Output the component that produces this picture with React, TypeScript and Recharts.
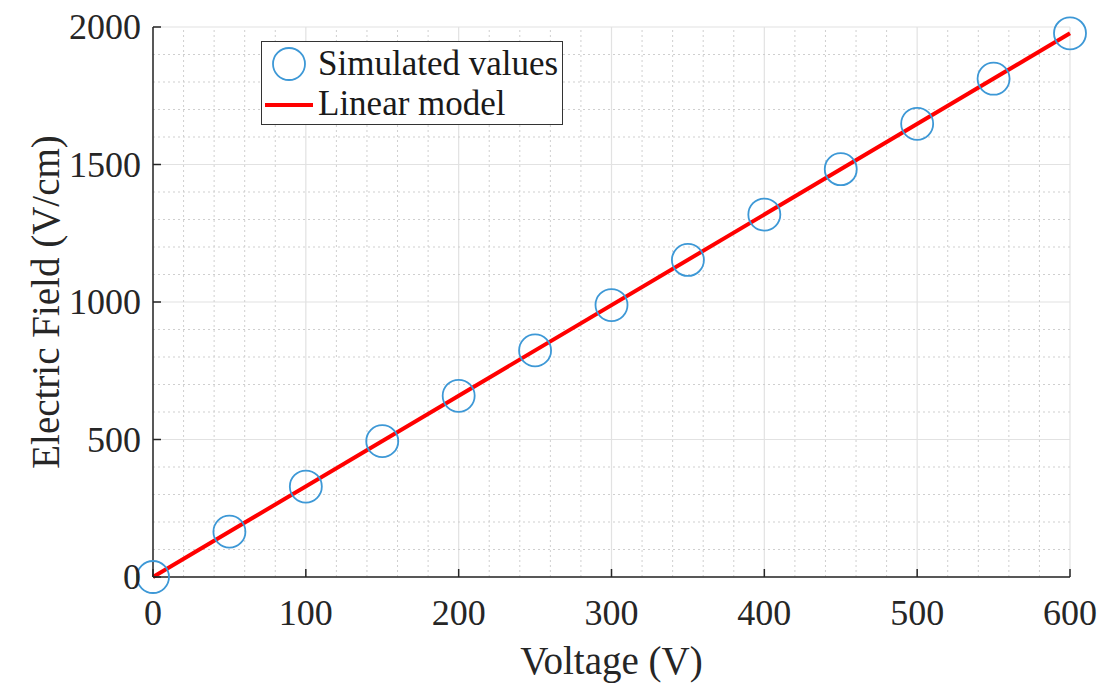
import {
  ComposedChart,
  Scatter,
  Line,
  XAxis,
  YAxis,
  CartesianGrid,
  ReferenceLine,
} from 'recharts';

const voltage = [0, 50, 100, 150, 200, 250, 300, 350, 400, 450, 500, 550, 600];
const simulatedField = [0, 165, 329, 494, 659, 824, 989, 1153, 1318, 1483, 1648, 1812, 1977];
const modelVoltage = [0, 600];
const modelField = [0, 1977];

const xTicks = [0, 100, 200, 300, 400, 500, 600];
const yTicks = [0, 500, 1000, 1500, 2000];
const minorX = [20, 40, 60, 80, 120, 140, 160, 180, 220, 240, 260, 280, 320, 340, 360, 380, 420, 440, 460, 480, 520, 540, 560, 580];
const minorY = [100, 200, 300, 400, 600, 700, 800, 900, 1100, 1200, 1300, 1400, 1600, 1700, 1800, 1900];

const simulated = voltage.map((v, i) => ({ voltage: v, field: simulatedField[i] }));
const model = modelVoltage.map((v, i) => ({ voltage: v, model: modelField[i] }));

const FONT = '"Liberation Serif", "Times New Roman", serif';
const AXIS = '#262626';
const BLUE = '#3d98d6';
const RED = '#ff0000';

function XTick({ x, y, payload }: any) {
  return (
    <g>
      <line x1={x} x2={x} y1={577} y2={569} stroke={AXIS} strokeWidth={1.5} />
      <text x={x} y={613} textAnchor="middle" dominantBaseline="central" fontFamily={FONT} fontSize={36} fill="#262626">
        {payload.value}
      </text>
    </g>
  );
}

function YTick({ x, y, payload }: any) {
  return (
    <g>
      <line x1={153} x2={161} y1={y} y2={y} stroke={AXIS} strokeWidth={1.5} />
      <text x={141} y={y} textAnchor="end" dominantBaseline="central" fontFamily={FONT} fontSize={36} fill="#262626">
        {payload.value}
      </text>
    </g>
  );
}

function LegendBox() {
  return (
    <div
      style={{
        position: 'absolute',
        left: 261,
        top: 41,
        width: 300,
        height: 82,
        border: '1px solid #333',
        background: '#fff',
        fontFamily: FONT,
        fontSize: 35,
        color: '#1a1a1a',
      }}
    >
      <svg width={52} height={82} style={{ position: 'absolute', left: 0, top: 0 }}>
        <circle cx={27} cy={22} r={16} fill="none" stroke={BLUE} strokeWidth={1.8} />
        <line x1={3} x2={51} y1={63} y2={63} stroke={RED} strokeWidth={4} />
      </svg>
      <div style={{ position: 'absolute', left: 56, top: 2, lineHeight: '40px', whiteSpace: 'nowrap' }}>Simulated values</div>
      <div style={{ position: 'absolute', left: 56, top: 42, lineHeight: '40px', whiteSpace: 'nowrap' }}>Linear model</div>
    </div>
  );
}

export default function App() {
  return (
    <div style={{ position: 'absolute', left: 0, top: 0, width: 1106, height: 685, background: '#fff' }}>
      <ComposedChart width={1106} height={685} margin={{ top: 27, right: 36, bottom: 0, left: 0 }}>
        <CartesianGrid stroke="#e2e2e2" strokeWidth={1.2} />
        {minorX.map((v) => (
          <ReferenceLine key={'x' + v} x={v} stroke="#cfcfcf" strokeDasharray="2 3" />
        ))}
        {minorY.map((v) => (
          <ReferenceLine key={'y' + v} y={v} stroke="#cfcfcf" strokeDasharray="2 3" />
        ))}
        <XAxis
          type="number"
          dataKey="voltage"
          domain={[0, 600]}
          ticks={xTicks}
          height={108}
          tickSize={0}
          tickMargin={0}
          tickLine={false}
          axisLine={{ stroke: AXIS, strokeWidth: 1.5 }}
          tick={<XTick />}
          interval={0}
          label={{
            content: ({ viewBox }: any) => (
              <text
                x={viewBox.x + viewBox.width / 2}
                y={660}
                textAnchor="middle"
                dominantBaseline="central"
                fontFamily={FONT}
                fontSize={39}
                fill="#262626"
              >
                Voltage (V)
              </text>
            ),
          }}
        />
        <YAxis
          type="number"
          domain={[0, 2000]}
          ticks={yTicks}
          width={153}
          tickSize={0}
          tickMargin={0}
          tickLine={false}
          axisLine={{ stroke: AXIS, strokeWidth: 1.5 }}
          tick={<YTick />}
          interval={0}
          label={{
            content: ({ viewBox }: any) => {
              const cy = viewBox.y + viewBox.height / 2;
              return (
                <text
                  x={45}
                  y={cy}
                  transform={`rotate(-90 45 ${cy})`}
                  textAnchor="middle"
                  dominantBaseline="central"
                  fontFamily={FONT}
                  fontSize={39}
                  fill="#262626"
                >
                  Electric Field (V/cm)
                </text>
              );
            },
          }}
        />
        <Scatter
          name="Simulated values"
          data={simulated}
          dataKey="field"
          isAnimationActive={false}
          shape={(p: any) => <circle cx={p.cx} cy={p.cy} r={16} fill="none" stroke={BLUE} strokeWidth={1.8} />}
        />
        <Line
          name="Linear model"
          data={model}
          dataKey="model"
          type="linear"
          stroke={RED}
          strokeWidth={4}
          dot={false}
          activeDot={false}
          isAnimationActive={false}
        />
      </ComposedChart>
      <LegendBox />
    </div>
  );
}
